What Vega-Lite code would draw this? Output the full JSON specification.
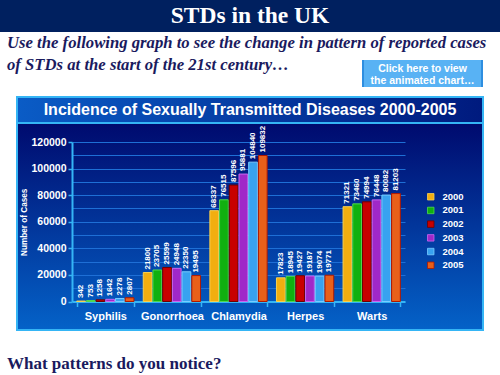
{
  "$schema": "https://vega.github.io/schema/vega-lite/v6.json",
  "padding": 0,
  "background": "white",
  "bounds": "flush",
  "center": true,
  "spacing": 0,
  "config": {"view": {"stroke": null}},
  "vconcat": [
    {
      "width": 500, "height": 32,
      "view": {"fill": "#00205F", "stroke": null},
      "data": {"values": [{"t": "STDs in the UK"}]},
      "mark": {"type": "text", "font": "Liberation Serif", "fontSize": 23.5, "fontWeight": "bold", "color": "white"},
      "encoding": {"text": {"field": "t", "type": "nominal"}}
    },
    {
      "width": 500, "height": 28,
      "view": {"stroke": null},
      "data": {"values": []},
      "mark": "rect",
      "encoding": {},
      "title": {
        "text": ["Use the following graph to see the change in pattern of reported cases", "of STDs at the start of the 21st century…"],
        "anchor": "start", "frame": "group", "orient": "top", "offset": -50, "baseline": "middle", "dx": 7,
        "font": "Liberation Serif", "fontStyle": "italic", "fontWeight": "bold", "fontSize": 16.7, "lineHeight": 22, "color": "#1A1A5E"
      }
    },
    {
      "width": 500, "height": 27,
      "view": {"fill": {"gradient": "linear", "x1": 0, "y1": 0, "x2": 1, "y2": 0, "stops": [
        {"offset": 0, "color": "rgba(255,255,255,0)"}, {"offset": 0.724, "color": "rgba(255,255,255,0)"},
        {"offset": 0.724, "color": "#2E8EE0"}, {"offset": 0.728, "color": "#2E8EE0"},
        {"offset": 0.728, "color": "#58B2F4"}, {"offset": 0.962, "color": "#58B2F4"},
        {"offset": 0.962, "color": "#2E8EE0"}, {"offset": 0.966, "color": "#2E8EE0"},
        {"offset": 0.966, "color": "rgba(255,255,255,0)"}, {"offset": 1, "color": "rgba(255,255,255,0)"}]}, "stroke": null},
      "data": {"values": []},
      "mark": "rect",
      "encoding": {},
      "title": {
        "text": ["Click here to view", "the animated chart…"],
        "anchor": "end", "align": "center", "frame": "group", "orient": "top", "offset": -31.5, "baseline": "middle", "dx": -77.5,
        "font": "Liberation Sans", "fontWeight": "bold", "fontSize": 10.5, "lineHeight": 12, "color": "white"
      }
    },
    {"width": 500, "height": 10, "view": {"stroke": null}, "data": {"values": []}, "mark": "rect", "encoding": {}},
    {
      "width": 466, "height": 26,
      "view": {"fill": {"gradient": "linear", "x1": 0, "y1": 0, "x2": 1, "y2": 0, "stops": [{"offset": 0, "color": "#0A5CC6"}, {"offset": 1, "color": "#001A7E"}]}, "stroke": "#35B5F5", "strokeWidth": 2},
      "data": {"values": [{"t": "Incidence of Sexually Transmitted Diseases 2000-2005"}]},
      "mark": {"type": "text", "font": "Liberation Sans", "fontSize": 16, "fontWeight": "bold", "color": "white"},
      "encoding": {"text": {"field": "t", "type": "nominal"}}
    },
    {
      "width": 466, "height": 207,
      "view": {"fill": {"gradient": "linear", "x1": 0, "y1": 0, "x2": 0, "y2": 1, "stops": [{"offset": 0, "color": "#000A6E"}, {"offset": 1, "color": "#0462C8"}]}, "stroke": "#35B5F5", "strokeWidth": 2},
      "data": {"values": [
        {"disease": "Syphilis", "year": "2000", "cases": 342},
        {"disease": "Syphilis", "year": "2001", "cases": 753},
        {"disease": "Syphilis", "year": "2002", "cases": 1258},
        {"disease": "Syphilis", "year": "2003", "cases": 1642},
        {"disease": "Syphilis", "year": "2004", "cases": 2278},
        {"disease": "Syphilis", "year": "2005", "cases": 2807},
        {"disease": "Gonorrhoea", "year": "2000", "cases": 21800},
        {"disease": "Gonorrhoea", "year": "2001", "cases": 23705},
        {"disease": "Gonorrhoea", "year": "2002", "cases": 25599},
        {"disease": "Gonorrhoea", "year": "2003", "cases": 24948},
        {"disease": "Gonorrhoea", "year": "2004", "cases": 22350},
        {"disease": "Gonorrhoea", "year": "2005", "cases": 19495},
        {"disease": "Chlamydia", "year": "2000", "cases": 68337},
        {"disease": "Chlamydia", "year": "2001", "cases": 76515},
        {"disease": "Chlamydia", "year": "2002", "cases": 87596},
        {"disease": "Chlamydia", "year": "2003", "cases": 95881},
        {"disease": "Chlamydia", "year": "2004", "cases": 104840},
        {"disease": "Chlamydia", "year": "2005", "cases": 109832},
        {"disease": "Herpes", "year": "2000", "cases": 17823},
        {"disease": "Herpes", "year": "2001", "cases": 18945},
        {"disease": "Herpes", "year": "2002", "cases": 19427},
        {"disease": "Herpes", "year": "2003", "cases": 19187},
        {"disease": "Herpes", "year": "2004", "cases": 19074},
        {"disease": "Herpes", "year": "2005", "cases": 19771},
        {"disease": "Warts", "year": "2000", "cases": 71321},
        {"disease": "Warts", "year": "2001", "cases": 73460},
        {"disease": "Warts", "year": "2002", "cases": 74994},
        {"disease": "Warts", "year": "2003", "cases": 76448},
        {"disease": "Warts", "year": "2004", "cases": 80082},
        {"disease": "Warts", "year": "2005", "cases": 81203}
      ]},
      "encoding": {
        "x": {
          "field": "disease", "type": "nominal",
          "sort": ["Syphilis", "Gonorrhoea", "Chlamydia", "Herpes", "Warts"],
          "scale": {"range": [55, 388], "paddingInner": 0.14, "paddingOuter": 0.07},
          "axis": {
            "orient": "bottom", "offset": -28.5, "title": null, "labelAngle": 0, "tickBand": "extent",
            "domainColor": "#35B5F5", "domainWidth": 2, "tickColor": "#35B5F5", "tickSize": 5, "tickWidth": 1.5,
            "labelColor": "white", "labelFont": "Liberation Sans", "labelFontSize": 11, "labelFontWeight": "bold", "labelPadding": 4, "grid": false
          }
        },
        "xOffset": {"field": "year", "type": "nominal", "scale": {"paddingInner": 0.1}},
        "y": {
          "field": "cases", "type": "quantitative",
          "scale": {"domain": [0, 120000], "range": [178.5, 19], "nice": false, "zero": true},
          "axis": {
            "orient": "left", "offset": -55,
            "values": [0, 10000, 20000, 30000, 40000, 50000, 60000, 70000, 80000, 90000, 100000, 110000, 120000],
            "format": "d",
            "labelExpr": "datum.value % 20000 == 0 ? datum.label : ''",
            "title": "Number of Cases", "titleColor": "white", "titleFont": "Liberation Sans", "titleFontSize": 8.2, "titleFontWeight": "bold", "titlePadding": 2,
            "labelColor": "white", "labelFont": "Liberation Sans", "labelFontSize": 10.5, "labelFontWeight": "bold", "labelPadding": 2,
            "domainColor": "#35B5F5", "domainWidth": 2, "tickColor": "#35B5F5", "tickSize": 4, "tickWidth": 1.5,
            "tickOpacity": {"condition": {"test": "datum.value % 20000 == 0", "value": 1}, "value": 0},
            "grid": true, "gridColor": "#1E6FD6", "gridWidth": 1
          }
        }
      },
      "layer": [
        {
          "mark": {"type": "bar", "strokeWidth": 1},
          "encoding": {
            "color": {
              "field": "year", "type": "nominal",
              "scale": {"domain": ["2000", "2001", "2002", "2003", "2004", "2005"], "range": ["#F2AE10", "#10B010", "#C80000", "#A028C8", "#38A2F0", "#E8601A"]},
              "legend": {
                "orient": "none", "legendX": 426, "legendY": 192, "title": null, "padding": 0,
                "symbolType": "square", "symbolSize": 42, "symbolStrokeWidth": 0.8, "symbolStrokeColor": "#603000",
                "labelColor": "white", "labelFont": "Liberation Sans", "labelFontSize": 9.5, "labelFontWeight": "bold", "labelOffset": 7, "rowPadding": 2.7
              }
            },
            "stroke": {
              "field": "year", "type": "nominal",
              "scale": {"domain": ["2000", "2001", "2002", "2003", "2004", "2005"], "range": ["#F8D050", "#50D850", "#700000", "#C868F0", "#78CCFF", "#B01800"]},
              "legend": null
            }
          }
        },
        {
          "mark": {"type": "text", "angle": 270, "align": "left", "baseline": "middle", "dx": 3, "font": "Liberation Sans", "fontSize": 8, "fontWeight": "bold", "color": "white"},
          "encoding": {"text": {"field": "cases", "type": "quantitative", "format": "d"}}
        }
      ]
    },
    {
      "width": 500, "height": 45,
      "view": {"stroke": null},
      "data": {"values": []},
      "mark": "rect",
      "encoding": {},
      "title": {
        "text": "What patterns do you notice?", "anchor": "start", "frame": "group", "orient": "top", "offset": -51, "baseline": "middle", "dx": 7,
        "font": "Liberation Serif", "fontWeight": "bold", "fontSize": 17, "color": "#1A1A5E"
      }
    }
  ]
}
